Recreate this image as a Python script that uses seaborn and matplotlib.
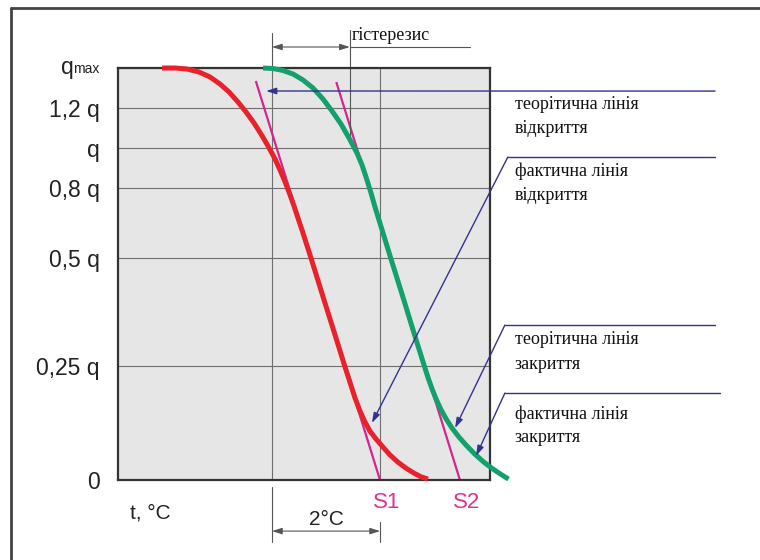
import numpy as np
import matplotlib
matplotlib.use("Agg")
import matplotlib.pyplot as plt
import seaborn as sns
from matplotlib.lines import Line2D
from matplotlib import transforms

# q axis: tick values, labels and their uneven spacing on the chart
q_levels = [0, 0.25, 0.5, 0.8, 1.0, 1.2, 1.4]
q_labels = ["0", "0,25 q", "0,5 q", "0,8 q", "q", "1,2 q", ""]
level_pos = [0, 114, 222, 292, 332, 372, 412]

# temperature grid lines (2 °C apart)
t_grid = [3.0, 5.0]

# actual opening curve (red)
red_t = [0.963, 1.204, 1.426, 1.648, 1.852, 2.037, 2.204, 2.370, 2.519, 2.667,
         2.796, 2.926, 3.056, 3.157, 3.250, 3.335, 3.413, 3.487, 3.561, 3.722,
         3.963, 4.167, 4.352, 4.537, 4.630, 4.722, 4.815, 4.926, 5.056, 5.185,
         5.333, 5.481, 5.630, 5.759, 5.889]
red_q = [1.40, 1.40, 1.395, 1.38, 1.355, 1.32, 1.28, 1.23, 1.18, 1.125,
         1.07, 1.01, 0.945, 0.885, 0.825, 0.77, 0.719, 0.667, 0.616, 0.50,
         0.403, 0.322, 0.248, 0.180, 0.151, 0.127, 0.107, 0.090, 0.072, 0.055,
         0.039, 0.026, 0.015, 0.007, 0.002]

# actual closing curve (green)
green_t = [2.833, 3.019, 3.204, 3.389, 3.574, 3.759, 3.944, 4.111, 4.278, 4.426,
           4.574, 4.667, 4.741, 4.833, 4.907, 5.198, 5.441, 5.630, 5.826, 5.891,
           5.963, 6.037, 6.122, 6.224, 6.333, 6.463, 6.606, 6.754, 6.924, 7.093,
           7.231, 7.380]
green_q = [1.40, 1.3975, 1.3875, 1.37, 1.34, 1.30, 1.245, 1.185, 1.12, 1.05,
           0.975, 0.915, 0.855, 0.779, 0.719, 0.50, 0.403, 0.326, 0.248, 0.224,
           0.200, 0.178, 0.156, 0.134, 0.114, 0.094, 0.075, 0.057, 0.039, 0.024,
           0.013, 0.002]

# theoretical lines (magenta), ending at S1 and S2
theo_open_t = [2.70, 5.0]
theo_open_q = [1.335, 0.0]
theo_close_t = [4.19, 6.48]
theo_close_q = [1.33, 0.0]
s_names = ["S1", "S2"]

hyst_t = [3.0, 4.44]

# labels on the right and the points their arrows aim at
label_lines = [("теорітична лінія", "відкриття"),
               ("фактична лінія", "відкриття"),
               ("теорітична лінія", "закриття"),
               ("фактична лінія", "закриття")]
arrow_tip_t = [2.89, 4.85, 6.39, 6.78]
arrow_tip_q = [1.285, 0.125, 0.114, 0.053]

RED = "#e8222b"
GREEN = "#14a06c"
MAGENTA = "#d4268e"
BLUE = "#33338f"
GRAY = "#555555"

sns.set_theme(style="white")
plt.rcParams["font.family"] = ["Liberation Sans", "DejaVu Sans"]

fig = plt.figure(figsize=(7.6, 5.6), dpi=100)
ax = fig.add_axes([118 / 760, 80 / 560, 372 / 760, 412 / 560])


def fwd(q):
    return np.interp(q, q_levels, level_pos)


def inv(p):
    return np.interp(p, level_pos, q_levels)


ax.set_yscale("function", functions=(fwd, inv))
ax.set_facecolor("#e6e6e7")

ax.plot(theo_open_t, theo_open_q, color=MAGENTA, lw=1.6, zorder=2, clip_on=False)
ax.plot(theo_close_t, theo_close_q, color=MAGENTA, lw=1.6, zorder=2, clip_on=False)

sns.lineplot(x=red_t, y=red_q, sort=False, estimator=None, color=RED, lw=3.6, ax=ax, zorder=3)
sns.lineplot(x=green_t, y=green_q, sort=False, estimator=None, color=GREEN, lw=3.6, ax=ax, zorder=3)
for ln in ax.lines:
    ln.set_clip_on(False)
    ln.set_solid_capstyle("butt")
    ln.set_solid_joinstyle("round")

ax.set_xlim(0.148, 7.037)
ax.set_ylim(0, 1.4)
ax.set_xticks(t_grid)
ax.set_xticklabels(["", ""])
ax.set_yticks(q_levels)
ax.set_yticklabels(q_labels, fontsize=16.5, color="#222222")
ax.tick_params(length=0, pad=13)
ax.grid(True, color="#6e6e6e", lw=0.8)
ax.set_axisbelow(True)
for sp in ax.spines.values():
    sp.set_color("#333333")
    sp.set_linewidth(1.6)
ax.set_xlabel("")
ax.set_ylabel("")

# q_max label
ax.text(-0.051, 0.988, "max", transform=ax.transAxes, ha="right", va="baseline",
        fontsize=10, color="#222222")
ax.text(-0.120, 0.985, "q", transform=ax.transAxes, ha="right", va="baseline",
        fontsize=16.5, color="#222222")

ax.text(0.032, -0.080, "t, °C", transform=ax.transAxes, ha="left", va="center",
        fontsize=15, color="#222222")

# S1, S2
for name, t in zip(s_names, [theo_open_t[1], theo_close_t[1]]):
    ax.annotate(name, xy=(t, 0), xytext=(5, -16), textcoords="offset points",
                ha="center", va="center", fontsize=16, color="#e0338a",
                annotation_clip=False)

blend = transforms.blended_transform_factory(ax.transData, ax.transAxes)
dbl = "<|-|>,head_length=0.5,head_width=0.16"

# hysteresis marker above the plot
ax.plot([hyst_t[0]] * 2, [1.0, 1.085], transform=blend, color=GRAY, lw=0.8, clip_on=False)
ax.plot([hyst_t[1]] * 2, [0.82, 1.092], transform=blend, color=GRAY, lw=0.8, clip_on=False)
ax.annotate("", xy=(hyst_t[0], 1.051), xytext=(hyst_t[1], 1.051),
            xycoords=blend, textcoords=blend,
            arrowprops=dict(arrowstyle=dbl, color=GRAY, lw=0.8, shrinkA=0, shrinkB=0,
                            mutation_scale=12), annotation_clip=False)
ax.plot([hyst_t[1], 6.67], [1.051, 1.051], transform=blend, color=GRAY, lw=0.8, clip_on=False)
ax.text(hyst_t[1] + 0.03, 1.068, "гістерезис", transform=blend, ha="left", va="baseline",
        fontsize=13, family="Liberation Serif", color="#111111")

# 2 °C marker below the plot
ax.plot([t_grid[0]] * 2, [-0.017, -0.150], transform=blend, color=GRAY, lw=0.8, clip_on=False)
ax.plot([t_grid[1]] * 2, [-0.102, -0.150], transform=blend, color=GRAY, lw=0.8, clip_on=False)
ax.annotate("", xy=(t_grid[0], -0.124), xytext=(t_grid[1], -0.124),
            xycoords=blend, textcoords=blend,
            arrowprops=dict(arrowstyle=dbl, color=GRAY, lw=0.8, shrinkA=0, shrinkB=0,
                            mutation_scale=12), annotation_clip=False)
ax.text(sum(t_grid) / 2, -0.095, "2°C", transform=blend, ha="center", va="center",
        fontsize=15, color="#222222")

# leaders and labels on the right
leader_y = [0.944, 0.784, 0.376, 0.211]
bend_x = [None, 1.048, 1.040, 1.040]
end_x = [1.605, 1.605, 1.605, 1.618]
text_base = [(0.900, 0.842), (0.738, 0.680), (0.330, 0.269), (0.148, 0.092)]
one = "-|>,head_length=0.5,head_width=0.16"
for i, lines in enumerate(label_lines):
    y = leader_y[i]
    start = end_x[i]
    if bend_x[i] is not None:
        ax.plot([end_x[i], bend_x[i]], [y, y], transform=ax.transAxes, color=BLUE,
                lw=1.0, clip_on=False)
        start = bend_x[i]
    ax.annotate("", xy=(arrow_tip_t[i], arrow_tip_q[i]), xycoords="data",
                xytext=(start, y), textcoords="axes fraction",
                arrowprops=dict(arrowstyle=one, color=BLUE, lw=1.0, shrinkA=0, shrinkB=0,
                                mutation_scale=12), annotation_clip=False)
    for txt, yb in zip(lines, text_base[i]):
        ax.text(1.067, yb, txt, transform=ax.transAxes, ha="left", va="baseline",
                fontsize=13, family="Liberation Serif", color="#111111")

# outer frame (top and left)
fig.add_artist(Line2D([11 / 760, 1.0], [1 - 8 / 560] * 2, transform=fig.transFigure,
                      color="#444444", lw=2))
fig.add_artist(Line2D([11 / 760] * 2, [0.0, 1 - 8 / 560], transform=fig.transFigure,
                      color="#444444", lw=2))

fig.savefig("out.png", dpi=100)
